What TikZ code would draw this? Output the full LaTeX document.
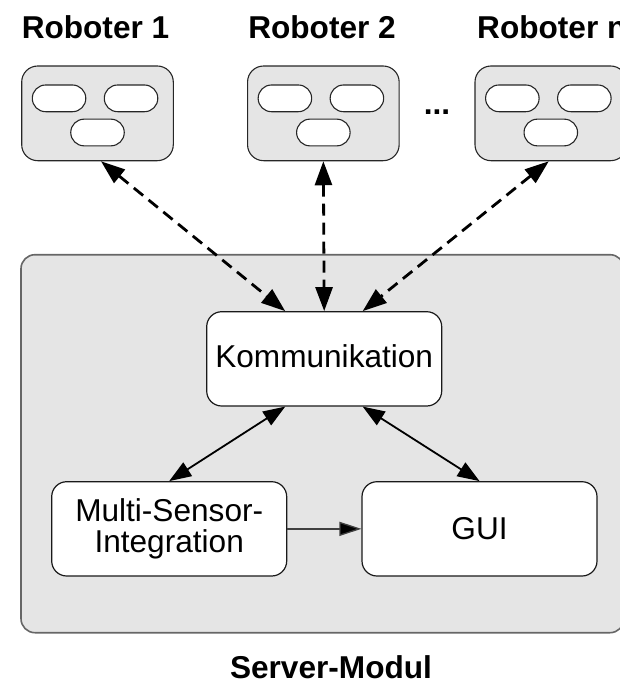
\documentclass[tikz,border=0pt]{standalone}
\usepackage{fontspec}
\setmainfont{Liberation Sans}
\usetikzlibrary{arrows.meta,calc}
\definecolor{panelgray}{RGB}{229,229,229}

\begin{document}
\begin{tikzpicture}[x=1pt,y=-1pt,
  font=\fontsize{31.6}{31.7}\selectfont,
  server/.style={draw=black!60,line width=1.6pt,fill=panelgray,rounded corners=14pt,
    minimum width=603pt,minimum height=378pt,inner sep=0pt},
  panel/.style={draw=black!85,line width=1.1pt,fill=panelgray,rounded corners=16pt,
    minimum width=151.6pt,minimum height=94.7pt,inner sep=0pt},
  slot/.style={draw=black!85,line width=1.1pt,fill=white,rounded corners=13.3pt,
    minimum width=53.5pt,minimum height=26.7pt,inner sep=0pt},
  module/.style={draw=black!90,line width=1.2pt,fill=white,rounded corners=15pt,
    minimum width=235pt,minimum height=94.3pt,inner sep=0pt,align=center},
  title/.style={font=\fontsize{31.6}{31.7}\selectfont\bfseries,inner sep=0pt},
  dasharrow/.style={line width=2.8pt,dash pattern=on 12pt off 7pt,
    {Triangle[length=24pt,width=17pt]}-{Triangle[length=24pt,width=17pt]}},
  solidarrow/.style={line width=1.8pt,
    {Triangle[length=22pt,width=16pt]}-{Triangle[length=22pt,width=16pt]}},
  flowarrow/.style={line width=1.3pt,draw=black!75,-{Triangle[length=22pt,width=14pt,fill=black]}}
]
\useasboundingbox (0,0) rectangle (619,680);

% server frame
\node[server] (srv) at (322.5,443.7) {};

% robots with their three components
\foreach \i/\cx in {1/97.5,2/323.35,n/550.8}{
  \node[panel] (r\i) at (\cx,113.35) {};
  \node[slot] (r\i a) at (\cx-38.45,98.35) {};
  \node[slot] (r\i b) at (\cx+33.55,98.35) {};
  \node[slot] (r\i c) at (\cx,132.5) {};
}
\node[title,anchor=base] (t1) at (95.5,38.3) {Roboter 1};
\node[title,anchor=base] (t2) at (322,38.3) {Roboter 2};
\node[title,anchor=base west] (tn) at (477,38.3) {Roboter n};
\node[title,anchor=base] (dots) at (437,114) {...};

% server modules
\node[module,text depth=6pt] (k) at (324.2,358.85) {Kommunikation};
\node[module] (m) at (169.2,528.85) {Multi-Sensor-\\Integration};
\node[module] (g) at (479.5,528.85) {GUI};
\node[title,anchor=base] (cap) at (331,678) {Server-Modul};

% connections
\draw[dasharrow] ($(r1.south)+(3.5,0)$) -- ($(k.north)+(-39,0)$);
\draw[dasharrow] (r2.south) -- (k.north);
\draw[dasharrow] ($(rn.south)+(-2,0)$) -- ($(k.north)+(38.5,0)$);
\draw[solidarrow] ($(k.south)+(-39,0)$) -- (m.north);
\draw[solidarrow] ($(k.south)+(38.5,0)$) -- (g.north);
\draw[flowarrow] (m.east) -- (g.west);
\end{tikzpicture}
\end{document}
